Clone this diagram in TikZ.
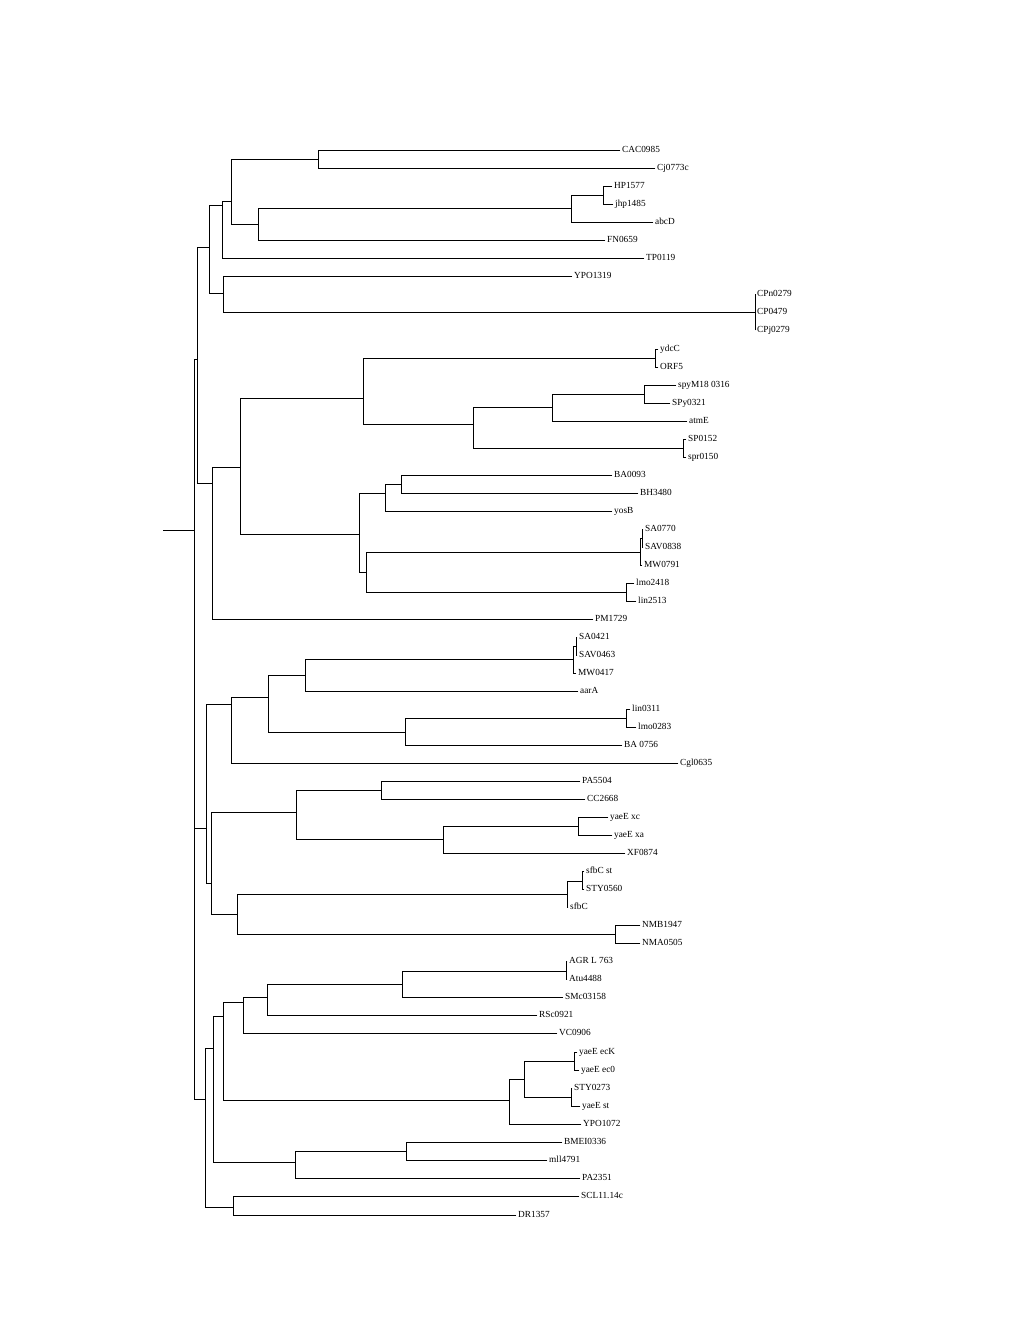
\documentclass[tikz,border=0pt]{standalone}
\usepackage{fontspec}
\setmainfont{Liberation Serif}
\newcommand\treelbl{\fontsize{9.3}{11}\selectfont}
\begin{document}
\begin{tikzpicture}[x=1pt,y=-1pt,
  br/.style={line width=0.75pt, line cap=rect},
  lf/.style={anchor=west, inner xsep=2pt, inner ysep=0pt, text height=6.6pt, text depth=1.8pt, font=\treelbl}]
\useasboundingbox (0,0) rectangle (1020,1320);
% ---------- leaves ----------
\node[lf] (L1)  at (620,150)  {CAC0985};
\node[lf] (L2)  at (655,168)  {Cj0773c};
\node[lf] (L3)  at (612,186)  {HP1577};
\node[lf] (L4)  at (613,204)  {jhp1485};
\node[lf] (L5)  at (653,222)  {abcD};
\node[lf] (L6)  at (605,240)  {FN0659};
\node[lf] (L7)  at (644,258)  {TP0119};
\node[lf] (L8)  at (572,276)  {YPO1319};
\node[lf] (L9)  at (755,294)  {CPn0279};
\node[lf] (L10) at (755,312)  {CP0479};
\node[lf] (L11) at (755,330)  {CPj0279};
\node[lf] (L12) at (658,349)  {ydcC};
\node[lf] (L13) at (658,367)  {ORF5};
\node[lf] (L14) at (676,385)  {spyM18 0316};
\node[lf] (L15) at (670,403)  {SPy0321};
\node[lf] (L16) at (687,421)  {atmE};
\node[lf] (L17) at (686,439)  {SP0152};
\node[lf] (L18) at (686,457)  {spr0150};
\node[lf] (L19) at (612,475)  {BA0093};
\node[lf] (L20) at (638,493)  {BH3480};
\node[lf] (L21) at (612,511)  {yosB};
\node[lf] (L22) at (643,529)  {SA0770};
\node[lf] (L23) at (643,547)  {SAV0838};
\node[lf] (L24) at (642,565)  {MW0791};
\node[lf] (L25) at (634,583)  {lmo2418};
\node[lf] (L26) at (636,601)  {lin2513};
\node[lf] (L27) at (593,619)  {PM1729};
\node[lf] (L28) at (577,637)  {SA0421};
\node[lf] (L29) at (577,655)  {SAV0463};
\node[lf] (L30) at (576,673)  {MW0417};
\node[lf] (L31) at (578,691)  {aarA};
\node[lf] (L32) at (630,709)  {lin0311};
\node[lf] (L33) at (636,727)  {lmo0283};
\node[lf] (L34) at (622,745)  {BA 0756};
\node[lf] (L35) at (678,763)  {Cgl0635};
\node[lf] (L36) at (580,781)  {PA5504};
\node[lf] (L37) at (585,799)  {CC2668};
\node[lf] (L38) at (608,817)  {yaeE xc};
\node[lf] (L39) at (612,835)  {yaeE xa};
\node[lf] (L40) at (625,853)  {XF0874};
\node[lf] (L41) at (584,871)  {sfbC st};
\node[lf] (L42) at (584,889)  {STY0560};
\node[lf] (L43) at (568,907)  {sfbC};
\node[lf] (L44) at (640,925)  {NMB1947};
\node[lf] (L45) at (640,943)  {NMA0505};
\node[lf] (L46) at (567,961)  {AGR L 763};
\node[lf] (L47) at (567,979)  {Atu4488};
\node[lf] (L48) at (563,997)  {SMc03158};
\node[lf] (L49) at (537,1015) {RSc0921};
\node[lf] (L50) at (557,1033) {VC0906};
\node[lf] (L51) at (577,1052) {yaeE ecK};
\node[lf] (L52) at (579,1070) {yaeE ec0};
\node[lf] (L53) at (572,1088) {STY0273};
\node[lf] (L54) at (580,1106) {yaeE st};
\node[lf] (L55) at (581,1124) {YPO1072};
\node[lf] (L56) at (562,1142) {BMEI0336};
\node[lf] (L57) at (547,1160) {mll4791};
\node[lf] (L58) at (580,1178) {PA2351};
\node[lf] (L59) at (579,1196) {SCL11.14c};
\node[lf] (L60) at (516,1215) {DR1357};
% ---------- internal nodes ----------
\coordinate (n1) at (318,159);
\coordinate (n2) at (603,195);
\coordinate (n3) at (571,208);
\coordinate (n4) at (258,224);
\coordinate (n5) at (231,201);
\coordinate (n6) at (222,205);
\coordinate (n7) at (755,312);
\coordinate (n8) at (223,293);
\coordinate (n9) at (209,247);
\coordinate (m1) at (655,358);
\coordinate (m2) at (644,394);
\coordinate (m3) at (552,407);
\coordinate (m4) at (683,448);
\coordinate (m5) at (473,424);
\coordinate (m6) at (363,398);
\coordinate (m7) at (401,484);
\coordinate (m8) at (385,493);
\coordinate (s1) at (642,538);
\coordinate (s2) at (640,552);
\coordinate (s3) at (626,592);
\coordinate (m9) at (366,572);
\coordinate (m10) at (359,534);
\coordinate (F1) at (240,467);
\coordinate (P) at (212,483);
\coordinate (A) at (197,359);
\coordinate (t1) at (576,646);
\coordinate (t2) at (573,659);
\coordinate (t3) at (305,675);
\coordinate (t4) at (626,718);
\coordinate (t5) at (405,732);
\coordinate (t6) at (268,697);
\coordinate (t7) at (231,704);
\coordinate (u1) at (381,790);
\coordinate (u2) at (578,826);
\coordinate (u3) at (443,839);
\coordinate (u4) at (296,812);
\coordinate (v1) at (582,881);
\coordinate (v2) at (567,894);
\coordinate (v3) at (615,934);
\coordinate (v4) at (237,914);
\coordinate (u5) at (211,883);
\coordinate (w) at (206,828);
\coordinate (x1) at (566,971);
\coordinate (x2) at (402,984);
\coordinate (x3) at (267,997);
\coordinate (x4) at (243,1002);
\coordinate (y1) at (574,1061);
\coordinate (y2) at (571,1097);
\coordinate (y3) at (524,1079);
\coordinate (y4) at (509,1100);
\coordinate (x5) at (223,1016);
\coordinate (z1) at (406,1151);
\coordinate (z2) at (295,1162);
\coordinate (x6) at (213,1048);
\coordinate (z3) at (233,1207);
\coordinate (B) at (205,1099);
\coordinate (R) at (194,530);
\coordinate (stem) at (163,530);
% ---------- branches ----------
\draw[br] (stem) -- (R);
\foreach \p/\c in {R/A, R/w, R/B,
  A/n9, A/P, n9/n6, n9/n8, n6/n5, n5/n1, n5/n4, n4/n3, n3/n2, n8/n7,
  P/F1, F1/m6, F1/m10, m6/m1, m6/m5, m5/m3, m5/m4, m3/m2, m10/m8, m10/m9, m8/m7, m9/s2, m9/s3, s2/s1,
  w/t7, w/u5, t7/t6, t6/t3, t6/t5, t3/t2, t2/t1, t5/t4, u5/u4, u5/v4, u4/u1, u4/u3, u3/u2, v4/v2, v4/v3, v2/v1,
  B/x6, B/z3, x6/x5, x6/z2, x5/x4, x5/y4, x4/x3, x3/x2, x2/x1, y4/y3, y3/y1, y3/y2, z2/z1}
  \draw[br] (\p) |- (\c);
\foreach \p/\c in {n1/L1, n1/L2, n2/L3, n2/L4, n3/L5, n4/L6, n6/L7, n8/L8, n7/L9, n7/L10, n7/L11,
  m1/L12, m1/L13, m2/L14, m2/L15, m3/L16, m4/L17, m4/L18, m7/L19, m7/L20, m8/L21,
  s1/L22, s1/L23, s2/L24, s3/L25, s3/L26, P/L27,
  t1/L28, t1/L29, t2/L30, t3/L31, t4/L32, t4/L33, t5/L34, t7/L35,
  u1/L36, u1/L37, u2/L38, u2/L39, u3/L40, v1/L41, v1/L42, v2/L43, v3/L44, v3/L45,
  x1/L46, x1/L47, x2/L48, x3/L49, x4/L50, y1/L51, y1/L52, y2/L53, y2/L54, y4/L55,
  z1/L56, z1/L57, z2/L58, z3/L59, z3/L60}
  \draw[br] (\p) |- (\c.west);
\end{tikzpicture}
\end{document}
